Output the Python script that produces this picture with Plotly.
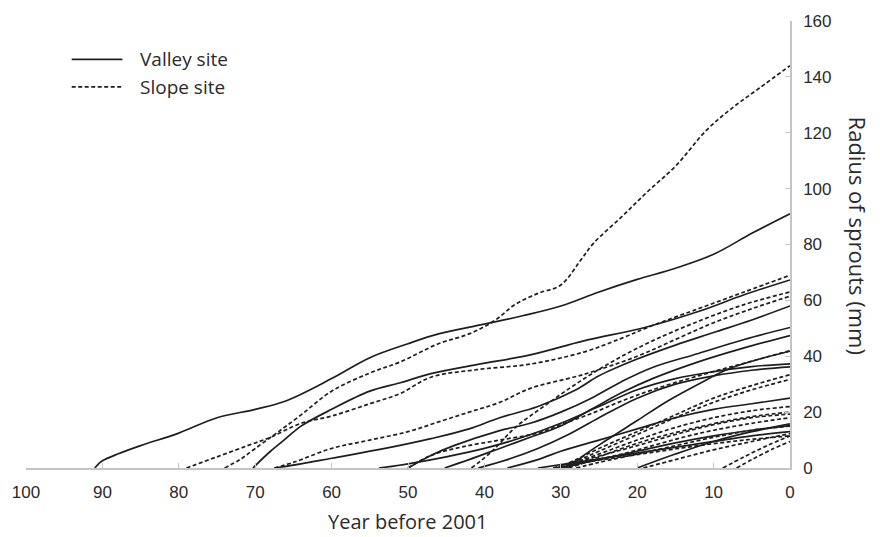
import plotly.graph_objects as go

# Sprout radius (mm) against year before 2001, one curve per sprout.
# Each curve: (years before 2001, radius in mm)

# Valley site (solid)
valley_01 = ([91, 90.5, 90, 88, 85, 80, 75, 70, 66, 60, 55, 50, 46, 40, 35, 30, 25, 20, 15, 10, 5, 0],
             [0, 1.5, 2.6, 5, 8, 12.5, 18, 21, 24, 32, 39.5, 44.5, 48, 51.5, 54.5, 58, 63, 67.5, 71.5, 76.5, 84, 91])
valley_02 = ([70.3, 68, 66, 64, 60, 55, 51, 47, 41, 34, 27, 19, 12, 6, 0],
             [0, 6, 10.5, 15, 21, 27.5, 30.5, 33.8, 37, 40.5, 45.5, 50.3, 56, 62, 67.3])
valley_03 = ([67.5, 64, 60, 53, 47, 42, 38, 33, 28, 25, 20, 15, 10, 5, 0],
             [0, 1.5, 3.5, 7, 10.5, 14, 18, 22, 28, 33, 39, 44, 48.5, 53, 58])
valley_04 = ([50, 47, 44, 38, 34, 30, 26, 22, 18, 12, 6, 0],
             [0, 4.5, 8, 13.4, 16, 20, 25, 31, 36, 41, 46, 50.3])
valley_05 = ([45.2, 42, 38, 34, 30, 26, 22, 18, 12, 6, 0],
             [0, 3, 7, 11, 15, 21, 27, 32, 38, 43, 47.4])
valley_06 = ([29, 27, 24, 20, 16, 12, 8, 4, 0],
             [0, 4.5, 10, 17, 24, 30, 35.5, 39, 41.8])
valley_07 = ([53.8, 50, 45, 40, 35, 30, 25, 20, 15, 10, 5, 0],
             [0, 1.5, 4, 7, 11, 16, 22, 28, 32, 34.5, 36.3, 37.3])
valley_08 = ([40.8, 37, 33, 29, 25, 20, 15, 10, 5, 0],
             [0, 3, 7, 12, 18, 25, 30, 33, 35, 36.2])
valley_09 = ([37, 33, 30, 25, 20, 15, 10, 5, 0],
             [0, 3, 6, 10, 14, 18, 21, 23, 25])
valley_10 = ([20, 15, 10, 5, 0],
             [0, 5, 9.5, 13, 15.8])
valley_11 = ([30.5, 25, 20, 15, 10, 5, 0],
             [0, 3, 6, 9, 11.5, 13.5, 15.2])
valley_12 = ([33, 28, 22, 16, 10, 5, 0],
             [0, 2, 4.5, 7, 9.5, 11.5, 13])

# Slope site (dashed)
slope_01 = ([79, 75, 71, 68, 64, 60, 55, 51, 47, 41, 34, 27, 22, 18, 12, 6, 0],
            [0, 4, 8, 11, 16, 18.6, 23, 26.7, 32.5, 35.2, 37.2, 41.5, 46.5, 51, 57, 63, 69])
slope_02 = ([74, 72, 70, 67.3, 64, 60, 55, 51, 46, 42, 38.7, 36, 33, 30, 27.5, 25.7, 22, 18.7, 15, 10.9, 7.5, 4, 0],
            [0, 3, 7, 12.3, 19, 27.5, 34, 38, 44.5, 48, 52.7, 58.5, 62.5, 65.5, 74, 80.5, 90, 98.8, 108, 121, 129, 136, 144])
slope_03 = ([67.5, 65, 60, 55, 50, 46, 42, 38, 34, 27, 20, 15, 10, 5, 0],
            [0, 2, 7, 10, 13, 16.5, 20, 23.5, 28.5, 33.5, 40, 46, 52, 57, 61.5])
slope_04 = ([41.7, 39, 36, 32, 27.5, 23, 18, 12, 6, 0],
            [0, 6, 14.4, 22.5, 31, 38.5, 45.5, 52.5, 58.5, 63])
slope_05 = ([50, 47, 43, 38, 33, 30, 26, 22, 18, 12, 6, 0],
            [0, 4.5, 7.5, 10, 12.5, 15.5, 19.5, 24, 28, 33, 37.5, 42])
slope_06 = ([30.5, 28, 25, 20, 15, 10, 5, 0],
            [0, 3, 7, 13, 19, 25, 29.5, 33.4])
slope_07 = ([31, 28, 25, 20, 15, 10, 5, 0],
            [0, 2.5, 6, 12, 18, 23.5, 28, 31.7])
slope_08 = ([30, 27, 24, 20, 15, 10, 5, 0],
            [0, 3, 6, 10, 14.5, 18, 20.5, 22])
slope_09 = ([29.5, 26, 22, 18, 13, 8, 4, 0],
            [0, 3, 7, 10.5, 14, 17, 18.8, 20])
slope_10 = ([30, 28, 24, 20, 15, 10, 5, 0],
            [0, 2, 5, 8, 12, 15.5, 18, 19.3])
slope_11 = ([29, 26, 22, 18, 14, 10, 5, 0],
            [0, 2.5, 5, 8, 11, 13.5, 16, 18])
slope_12 = ([28, 25, 20, 15, 10, 5, 0],
            [0, 2, 5, 8, 11, 13.5, 15])
slope_13 = ([8.8, 6, 3, 0],
            [0, 4, 8, 11.5])
slope_14 = ([7, 5, 2.5, 0],
            [0, 3, 6.5, 9.5])
slope_15 = ([19.2, 15, 10, 5, 0],
            [0, 3, 6.5, 9.5, 12.3])
slope_16 = ([31, 27, 22, 17, 12, 6, 0],
            [0, 2, 4, 6, 8, 10, 11.5])

valley_lines = [valley_01, valley_02, valley_03, valley_04, valley_05, valley_06,
                valley_07, valley_08, valley_09, valley_10, valley_11, valley_12]
slope_lines = [slope_01, slope_02, slope_03, slope_04, slope_05, slope_06, slope_07, slope_08,
               slope_09, slope_10, slope_11, slope_12, slope_13, slope_14, slope_15, slope_16]

x_ticks = [100, 90, 80, 70, 60, 50, 40, 30, 20, 10, 0]
y_ticks = [0, 20, 40, 60, 80, 100, 120, 140, 160]

INK = "#1e1e1e"
AXIS = "#c4c4c4"
DASH = "4px,2.5px"
TEXT_FONT = "Open Sans"
NUM_FONT = "Liberation Sans"
LABEL_COLOR = "#2a2a2a"

fig = go.Figure()
for yrs, mm in valley_lines:
    fig.add_trace(go.Scatter(x=yrs, y=mm, mode="lines", showlegend=False,
                             line=dict(color=INK, width=1.7, shape="spline", smoothing=1.0)))
for yrs, mm in slope_lines:
    fig.add_trace(go.Scatter(x=yrs, y=mm, mode="lines", showlegend=False,
                             line=dict(color=INK, width=1.7, dash=DASH, shape="spline", smoothing=1.0)))

fig.update_layout(
    width=880, height=537,
    margin=dict(l=21, r=90, t=13, b=69),
    paper_bgcolor="white", plot_bgcolor="white",
    showlegend=False,
    xaxis=dict(range=[100, 0], tickvals=x_ticks, ticktext=[str(t) for t in x_ticks],
               showgrid=False, zeroline=False, showline=True, linecolor=AXIS, linewidth=1.5,
               ticks="inside", ticklen=5, tickcolor=AXIS, ticklabelstandoff=8,
               tickfont=dict(family=NUM_FONT, size=17, color=LABEL_COLOR)),
    yaxis=dict(range=[0, 160], tickvals=y_ticks, side="right",
               showgrid=False, zeroline=False, showline=True, linecolor=AXIS, linewidth=1.5,
               ticks="inside", ticklen=5, tickcolor=AXIS, ticklabelstandoff=8,
               tickfont=dict(family=NUM_FONT, size=17, color=LABEL_COLOR)),
)

# axis titles
fig.add_annotation(text="Year before 2001", xref="paper", yref="paper",
                   x=(405 - 21) / 769, y=-(522 - 468) / 455, xanchor="center", yanchor="middle",
                   showarrow=False, font=dict(family=TEXT_FONT, size=20, color=LABEL_COLOR))
fig.add_annotation(text="Radius of sprouts (mm)", xref="paper", yref="paper",
                   x=(858 - 21) / 769, y=(468 - 231) / 455, xanchor="center", yanchor="middle",
                   textangle=90, showarrow=False, font=dict(family=TEXT_FONT, size=22, color=LABEL_COLOR))

# key
def px_x(p):
    return (p - 21) / 769

def px_y(p):
    return (468 - p) / 455

for ypix, dash, label in [(52, "solid", "Valley site"), (80, DASH, "Slope site")]:
    fig.add_shape(type="line", xref="paper", yref="paper",
                  x0=px_x(67), x1=px_x(118), y0=px_y(ypix), y1=px_y(ypix),
                  line=dict(color=INK, width=1.7, dash=dash))
    fig.add_annotation(text=label, xref="paper", yref="paper", x=px_x(134), y=px_y(ypix),
                       xanchor="left", yanchor="middle", showarrow=False,
                       font=dict(family=TEXT_FONT, size=19, color=LABEL_COLOR))

fig.write_html("out.html")
